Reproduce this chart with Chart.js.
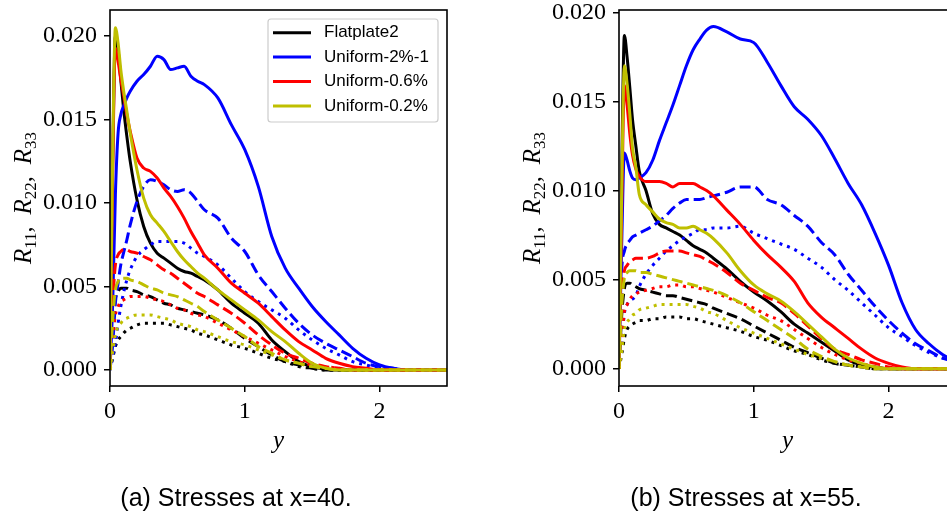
<!DOCTYPE html>
<html>
<head>
<meta charset="utf-8">
<title>Reynolds stresses</title>
<script src="https://cdn.jsdelivr.net/npm/chart.js@4.4.0/dist/chart.umd.min.js"></script>
<style>
  html, body { margin: 0; padding: 0; background: #ffffff; }
  body { width: 947px; height: 523px; position: relative; overflow: hidden; }
  canvas { position: absolute; top: 0; }
  #stressA { left: 0; }
  #stressB { left: 509px; }
  .caption {
    position: absolute; top: 482px; width: 300px; height: 30px;
    font: 25px "Liberation Sans", Arial, sans-serif; line-height: 30px;
    text-align: center; color: #000; white-space: nowrap;
  }
  #capA { left: 86px; }
  #capB { left: 596px; }
</style>
</head>
<body>
<canvas id="stressA" width="470" height="523"></canvas>
<canvas id="stressB" width="470" height="523"></canvas>
<div class="caption" id="capA">(a) Stresses at x=40.</div>
<div class="caption" id="capB">(b) Stresses at x=55.</div>
<script>
// wall-normal positions shared by every profile
const yPos = [0, 0.02, 0.04, 0.06, 0.08, 0.1, 0.125, 0.15, 0.2, 0.25, 0.3, 0.35, 0.4, 0.45, 0.5, 0.55, 0.6, 0.65, 0.7,
	0.8, 0.9, 1.0, 1.1, 1.2, 1.3, 1.4, 1.5, 1.6, 1.7, 1.8, 1.9, 2.0, 2.1, 2.2, 2.3, 2.4, 2.5];

const caseNames = ['Flatplate2', 'Uniform-2%-1', 'Uniform-0.6%', 'Uniform-0.2%'];
const caseColors = ['#000000', '#0000ff', '#ff0000', '#bfbf00'];

const xTicks = [0, 1, 2];
const yTicks = [0, 0.005, 0.010, 0.015, 0.020];

// ---- station x=40 ----
const flat40R11 = [0, .0125, .0200, .0192, .0174, .0157, .0140, .0125, .0102, .0086, .0076, .0070, .0067, .0064, .0061, .0059, .0058, .0056, .0054,
	.0048, .0040, .0034, .0028, .0018, .0011, .0005, .0002, .00005, 0, 0, 0, 0, 0, 0, 0, 0, 0];
const flat40R33 = [0, .0028, .0043, .0047, .0049, .0049, .0049, .0048, .0047, .0045, .0044, .0042, .0040, .0039, .0037, .0036, .0035, .0034, .0033,
	.0030, .0025, .0019, .0014, .0009, .0005, .0003, .0001, 0, 0, 0, 0, 0, 0, 0, 0, 0, 0];
const flat40R22 = [0, .0007, .0014, .0018, .0020, .0022, .0024, .0025, .0027, .0028, .0028, .0028, .0028, .0027, .0026, .0025, .0024, .0022, .0021,
	.0018, .0015, .0013, .0010, .0007, .0005, .0002, .0001, 0, 0, 0, 0, 0, 0, 0, 0, 0, 0];

const unif2pc40R11 = [0, .0040, .0105, .0142, .0153, .0158, .0163, .0167, .0173, .0177, .0182, .0188, .0186, .0180, .0181, .0182, .0176, .0173, .0171,
	.0163, .0147, .0132, .0110, .0080, .0061, .0049, .0038, .0029, .0021, .0013, .0007, .0003, .0001, 0, 0, 0, 0];
const unif2pc40R33 = [0, .0015, .0040, .0052, .0063, .0070, .0078, .0087, .0101, .0110, .0114, .0113, .0111, .0108, .0107, .0108, .0106, .0101, .0096,
	.0091, .0079, .0071, .0057, .0047, .0037, .0028, .0021, .0016, .0012, .0008, .0004, .0002, .0001, 0, 0, 0, 0];
const unif2pc40R22 = [0, .0008, .0016, .0028, .0038, .0046, .0054, .0060, .0068, .0072, .0075, .0077, .0077, .0077, .0077, .0076, .0073, .0070, .0068,
	.0063, .0055, .0047, .0041, .0036, .0031, .0024, .0018, .0013, .0009, .0005, .0003, .0001, 0, 0, 0, 0, 0];

const unif06pc40R11 = [0, .0120, .0193, .0185, .0174, .0165, .0153, .0143, .0127, .0121, .0119, .0115, .0109, .0104, .0098, .0091, .0083, .0076, .0069,
	.0061, .0052, .0046, .0040, .0032, .0024, .0017, .0012, .0007, .0004, .0002, .0001, 0, 0, 0, 0, 0, 0];
const unif06pc40R33 = [0, .0040, .0063, .0069, .0071, .0072, .0072, .0071, .0070, .0068, .0066, .0063, .0060, .0058, .0055, .0052, .0049, .0046, .0044,
	.0039, .0034, .0028, .0021, .0015, .0010, .0007, .0004, .0002, .0001, 0, 0, 0, 0, 0, 0, 0, 0];
const unif06pc40R22 = [0, .0018, .0033, .0038, .0041, .0042, .0043, .0044, .0044, .0044, .0043, .0042, .0041, .0039, .0037, .0036, .0034, .0033, .0032,
	.0028, .0024, .0020, .0016, .0012, .0008, .0005, .0003, .0002, .0001, 0, 0, 0, 0, 0, 0, 0, 0];

const unif02pc40R11 = [0, .0130, .0205, .0196, .0180, .0168, .0155, .0142, .0120, .0103, .0093, .0088, .0083, .0077, .0071, .0066, .0062, .0058, .0055,
	.0048, .0042, .0036, .0030, .0023, .0017, .0010, .0004, .0001, 0, 0, 0, 0, 0, 0, 0, 0, 0];
const unif02pc40R33 = [0, .0030, .0048, .0053, .0055, .0055, .0055, .0054, .0053, .0051, .0049, .0048, .0046, .0045, .0044, .0042, .0040, .0038, .0035,
	.0030, .0025, .0020, .0014, .0010, .0006, .0004, .0002, .0001, 0, 0, 0, 0, 0, 0, 0, 0, 0];
const unif02pc40R22 = [0, .0011, .0021, .0026, .0028, .0030, .0031, .0032, .0033, .0033, .0033, .0032, .0031, .0030, .0028, .0027, .0026, .0024, .0023,
	.0020, .0017, .0015, .0012, .0009, .0006, .0004, .0002, .0001, 0, 0, 0, 0, 0, 0, 0, 0, 0];

// ---- station x=55 ----
const flat55R11 = [0, .0110, .0187, .0175, .0158, .0140, .0125, .0111, .0100, .0087, .0081, .0079, .0077, .0075, .0072, .0069, .0067, .0065, .0062,
	.0056, .0049, .0043, .0038, .0032, .0025, .0020, .0015, .0010, .0005, .0002, .0001, 0, 0, 0, 0, 0, 0];
const flat55R33 = [0, .0030, .0045, .0048, .0048, .0047, .0046, .0045, .0044, .0043, .0042, .0041, .0041, .0040, .0039, .0038, .0037, .0036, .0034,
	.0031, .0028, .0024, .0020, .0016, .0012, .0009, .0006, .0003, .0002, .0001, 0, 0, 0, 0, 0, 0, 0];
const flat55R22 = [0, .0008, .0017, .0022, .0024, .0025, .0026, .0027, .0027, .0028, .0028, .0029, .0029, .0029, .0028, .0028, .0027, .0026, .0025,
	.0023, .0021, .0018, .0016, .0013, .0010, .0008, .0005, .0003, .0002, .0001, 0, 0, 0, 0, 0, 0, 0];

const unif2pc55R11 = [0, .0070, .0121, .0117, .0111, .0107, .0106, .0107, .0110, .0117, .0128, .0138, .0148, .0159, .0170, .0179, .0185, .0190, .0192,
	.0189, .0185, .0183, .0172, .0159, .0147, .0140, .0131, .0118, .0104, .0092, .0076, .0058, .0037, .0022, .0014, .0008, .0004];
const unif2pc55R33 = [0, .0055, .0066, .0070, .0072, .0074, .0075, .0076, .0078, .0080, .0083, .0086, .0090, .0093, .0095, .0095, .0095, .0096, .0097,
	.0099, .0102, .0102, .0095, .0092, .0086, .0080, .0071, .0064, .0053, .0044, .0035, .0027, .0020, .0014, .0010, .0006, .0004];
const unif2pc55R22 = [0, .0015, .0031, .0036, .0038, .0039, .0041, .0046, .0053, .0058, .0062, .0066, .0069, .0072, .0074, .0076, .0078, .0078, .0079,
	.0079, .0080, .0076, .0073, .0070, .0067, .0062, .0057, .0050, .0044, .0037, .0030, .0023, .0018, .0013, .0009, .0006, .0004];

const unif06pc55R11 = [0, .0090, .0159, .0148, .0132, .0120, .0112, .0108, .0105, .0105, .0105, .0104, .0102, .0104, .0104, .0104, .0102, .0100, .0097,
	.0089, .0081, .0072, .0064, .0057, .0049, .0037, .0029, .0023, .0017, .0011, .0006, .0003, .0001, 0, 0, 0, 0];
const unif06pc55R33 = [0, .0040, .0055, .0058, .0060, .0061, .0062, .0062, .0062, .0063, .0065, .0066, .0066, .0066, .0065, .0064, .0063, .0061, .0059,
	.0054, .0048, .0044, .0040, .0037, .0031, .0024, .0017, .0011, .0008, .0005, .0003, .0001, 0, 0, 0, 0, 0];
const unif06pc55R22 = [0, .0015, .0032, .0036, .0039, .0041, .0042, .0043, .0044, .0045, .0046, .0046, .0047, .0047, .0046, .0046, .0045, .0044, .0043,
	.0040, .0037, .0034, .0030, .0027, .0022, .0017, .0012, .0008, .0005, .0003, .0001, 0, 0, 0, 0, 0, 0];

const unif02pc55R11 = [0, .0100, .0170, .0160, .0143, .0124, .0113, .0098, .0092, .0088, .0084, .0082, .0081, .0079, .0079, .0080, .0078, .0076, .0073,
	.0065, .0055, .0047, .0042, .0038, .0032, .0025, .0018, .0011, .0006, .0003, .0001, 0, 0, 0, 0, 0, 0];
const unif02pc55R33 = [0, .0035, .0051, .0054, .0055, .0055, .0055, .0054, .0054, .0053, .0052, .0051, .0050, .0049, .0048, .0047, .0046, .0045, .0044,
	.0041, .0037, .0032, .0027, .0022, .0017, .0011, .0007, .0004, .0002, .0001, 0, 0, 0, 0, 0, 0, 0];
const unif02pc55R22 = [0, .0010, .0022, .0026, .0028, .0030, .0031, .0033, .0034, .0035, .0036, .0036, .0036, .0036, .0036, .0035, .0034, .0032, .0031,
	.0027, .0023, .0020, .0017, .0014, .0011, .0008, .0006, .0004, .0002, .0001, 0, 0, 0, 0, 0, 0, 0];

// per case: [R11, R33, R22]  ->  solid, dashed, dotted
const station40 = [
	[flat40R11, flat40R33, flat40R22],
	[unif2pc40R11, unif2pc40R33, unif2pc40R22],
	[unif06pc40R11, unif06pc40R33, unif06pc40R22],
	[unif02pc40R11, unif02pc40R33, unif02pc40R22]
];
const station55 = [
	[flat55R11, flat55R33, flat55R22],
	[unif2pc55R11, unif2pc55R33, unif2pc55R22],
	[unif06pc55R11, unif06pc55R33, unif06pc55R22],
	[unif02pc55R11, unif02pc55R33, unif02pc55R22]
];
const compDash = [[], [11, 5], [3, 5]];

function buildDatasets(station) {
	const sets = [];
	station.forEach((comps, c) => {
		comps.forEach((vals, k) => {
			sets.push({
				label: caseNames[c],
				data: yPos.map((y, i) => ({ x: y, y: vals[i] })),
				borderColor: caseColors[c],
				backgroundColor: caseColors[c],
				borderWidth: 3,
				borderDash: compDash[k],
				borderJoinStyle: 'round',
				pointRadius: 0,
				cubicInterpolationMode: 'monotone',
				fill: false
			});
		});
	});
	// chart.js paints the first dataset last, flip so later cases sit on top
	return sets.reverse();
}

// closed box around the plot area
const frameBox = {
	id: 'frameBox',
	afterDatasetsDraw(chart) {
		const { ctx, chartArea: a } = chart;
		ctx.save();
		ctx.strokeStyle = '#000';
		ctx.lineWidth = 1.6;
		ctx.strokeRect(a.left, a.top, a.right - a.left, a.bottom - a.top);
		ctx.restore();
	}
};

// rotated y label with real subscripts: R_11, R_22, R_33
const stressLabel = {
	id: 'stressLabel',
	afterDraw(chart) {
		const { ctx, chartArea: a } = chart;
		const parts = [
			['R', 'italic 25px "Liberation Serif"', 0], ['11', '17px "Liberation Serif"', 5], [',  ', '24px "Liberation Serif"', 0],
			['R', 'italic 25px "Liberation Serif"', 0], ['22', '17px "Liberation Serif"', 5], [',  ', '24px "Liberation Serif"', 0],
			['R', 'italic 25px "Liberation Serif"', 0], ['33', '17px "Liberation Serif"', 5]
		];
		ctx.save();
		let total = 0;
		parts.forEach(p => { ctx.font = p[1]; total += ctx.measureText(p[0]).width; });
		ctx.translate(31, (a.top + a.bottom) / 2);
		ctx.rotate(-Math.PI / 2);
		ctx.fillStyle = '#000';
		ctx.textBaseline = 'alphabetic';
		let x = -total / 2;
		parts.forEach(p => {
			ctx.font = p[1];
			ctx.fillText(p[0], x, p[2]);
			x += ctx.measureText(p[0]).width;
		});
		ctx.restore();
	}
};

// boxed legend in the upper right corner, line samples only for the cases
const boxLegend = {
	id: 'boxLegend',
	afterDraw(chart) {
		const { ctx, chartArea } = chart;
		const w = 170, h = 103;
		const x0 = chartArea.right - 9 - w;
		const y0 = chartArea.top + 9;
		ctx.save();
		ctx.fillStyle = 'rgba(255,255,255,0.8)';
		ctx.strokeStyle = '#cccccc';
		ctx.lineWidth = 1.2;
		ctx.beginPath();
		ctx.roundRect(x0, y0, w, h, 3);
		ctx.fill();
		ctx.stroke();
		ctx.font = '17px "Liberation Sans"';
		ctx.textBaseline = 'middle';
		caseNames.forEach((name, i) => {
			const cy = y0 + 13.7 + i * 24.4;
			ctx.strokeStyle = caseColors[i];
			ctx.lineWidth = 3;
			ctx.beginPath();
			ctx.moveTo(x0 + 5, cy);
			ctx.lineTo(x0 + 43, cy);
			ctx.stroke();
			ctx.fillStyle = '#000';
			ctx.fillText(name, x0 + 56, cy);
		});
		ctx.restore();
	}
};

function stressChart(id, station, yMin, yMax, extra) {
	const serif = 'Liberation Serif';
	return new Chart(document.getElementById(id), {
		type: 'line',
		data: { datasets: buildDatasets(station) },
		plugins: [frameBox, stressLabel].concat(extra),
		options: {
			responsive: false,
			animation: false,
			devicePixelRatio: 1,
			layout: { padding: { left: 0, top: 10, right: 23, bottom: 0 } },
			plugins: {
				legend: { display: false },
				tooltip: { enabled: false }
			},
			scales: {
				x: {
					type: 'linear',
					min: 0,
					max: 2.5,
					afterFit(s) { s.height = 137; s.paddingLeft = 0; s.paddingRight = 0; },
					afterBuildTicks(s) { s.ticks = xTicks.map(v => ({ value: v })); },
					border: { display: false },
					grid: { drawOnChartArea: false, drawTicks: true, tickLength: 6, color: '#000', lineWidth: 1.5 },
					ticks: {
						padding: 5,
						color: '#000',
						font: { family: serif, size: 24 },
						callback: v => v.toFixed(0)
					},
					title: {
						display: true,
						text: 'y',
						color: '#000',
						font: { family: serif, size: 25, style: 'italic' },
						padding: { top: 0, bottom: 67 }
					}
				},
				y: {
					type: 'linear',
					min: yMin,
					max: yMax,
					afterFit(s) { s.width = 110; s.paddingTop = 0; s.paddingBottom = 0; },
					afterBuildTicks(s) { s.ticks = yTicks.map(v => ({ value: v })); },
					border: { display: false },
					grid: { drawOnChartArea: false, drawTicks: true, tickLength: 6, color: '#000', lineWidth: 1.5 },
					ticks: {
						padding: 7,
						color: '#000',
						font: { family: serif, size: 24 },
						callback: v => v.toFixed(3)
					}
				}
			}
		}
	});
}

stressChart('stressA', station40, -0.00096, 0.02157, [boxLegend]);
stressChart('stressB', station55, -0.00097, 0.02013, []);
</script>
</body>
</html>
